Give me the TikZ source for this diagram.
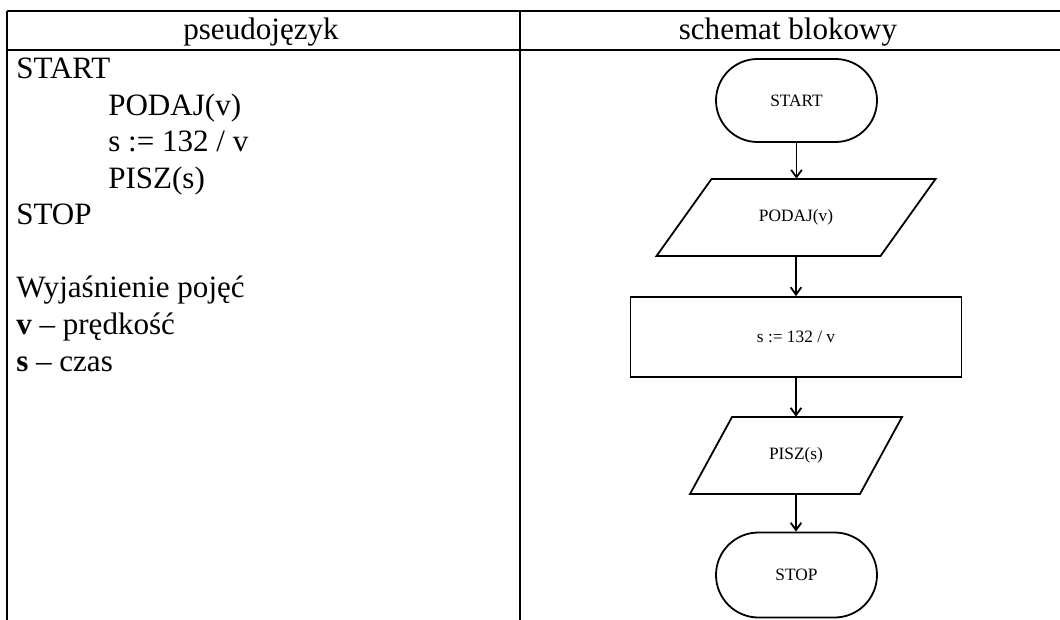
\documentclass[tikz,border=0pt]{standalone}
\usepackage{fontspec}
\setmainfont{Liberation Serif}
\usetikzlibrary{shapes.misc,arrows.meta,calc}
\begin{document}
\begin{tikzpicture}[x=0.75pt,y=-0.75pt,
  tableline/.style={line width=1.8pt},
  bigtext/.style={inner sep=0pt,font=\fontsize{23.3pt}{27.4pt}\selectfont},
  flow/.style={line width=1.35pt},
  flowtext/.style={font=\fontsize{13pt}{15pt}\selectfont,inner sep=0pt},
  terminal/.style={flow,draw,rounded rectangle,minimum width=120.75pt,minimum height=62.25pt,flowtext},
  procbox/.style={flow,draw,rectangle,minimum width=248.25pt,minimum height=60pt,flowtext},
  iobox/.style={rectangle,minimum height=57.75pt,flowtext},
  conn/.style={flow,-{Straight Barb[length=5.5pt,width=8pt,line width=1.35pt]}}
]
\useasboundingbox (0,0) rectangle (1060,620);
% table
\draw[tableline] (7,11) -- (1060,11);
\draw[tableline] (7,50) -- (1060,50);
\draw[tableline] (7,11) -- (7,620);
\draw[tableline] (520,11) -- (520,620);
% headers
\node[bigtext,anchor=base] (h1) at (261,40) {pseudojęzyk};
\node[bigtext,anchor=base] (h2) at (788,40) {schemat blokowy};
% pseudocode
\node[bigtext,anchor=base west] (l1) at (16,79) {START};
\node[bigtext,anchor=base west] (l2) at (108,115.5) {PODAJ(v)};
\node[bigtext,anchor=base west] (l3) at (108,152) {s := 132 / v};
\node[bigtext,anchor=base west] (l4) at (108,188.5) {PISZ(s)};
\node[bigtext,anchor=base west] (l5) at (16,225) {STOP};
\node[bigtext,anchor=base west] (l6) at (16,298) {Wyjaśnienie pojęć};
\node[bigtext,anchor=base west] (l7) at (16,334.5) {\textbf{v} – prędkość};
\node[bigtext,anchor=base west] (l8) at (16,371) {\textbf{s} – czas};
% flowchart
\node[terminal] (start) at (796.5,100.5) {START};
\node[iobox] (podaj) at (796,217.5) {PODAJ(v)};
\draw[flow] (656.5,256) -- (711.5,179) -- (935.5,179) -- (880.5,256) -- cycle;
\node[procbox] (calc) at (796,337) {s := 132 / v};
\node[iobox] (pisz) at (796,455.5) {PISZ(s)};
\draw[flow] (690,494) -- (732,417) -- (902,417) -- (860,494) -- cycle;
\node[terminal,minimum height=63.75pt] (stop) at (796.5,575) {STOP};
\draw[conn] (start.south) -- (start.south |- podaj.north);
\draw[conn] (podaj.south) -- (calc.north);
\draw[conn] (calc.south) -- (pisz.north);
\draw[conn] (pisz.south) -- (pisz.south |- stop.north);
\end{tikzpicture}
\end{document}
